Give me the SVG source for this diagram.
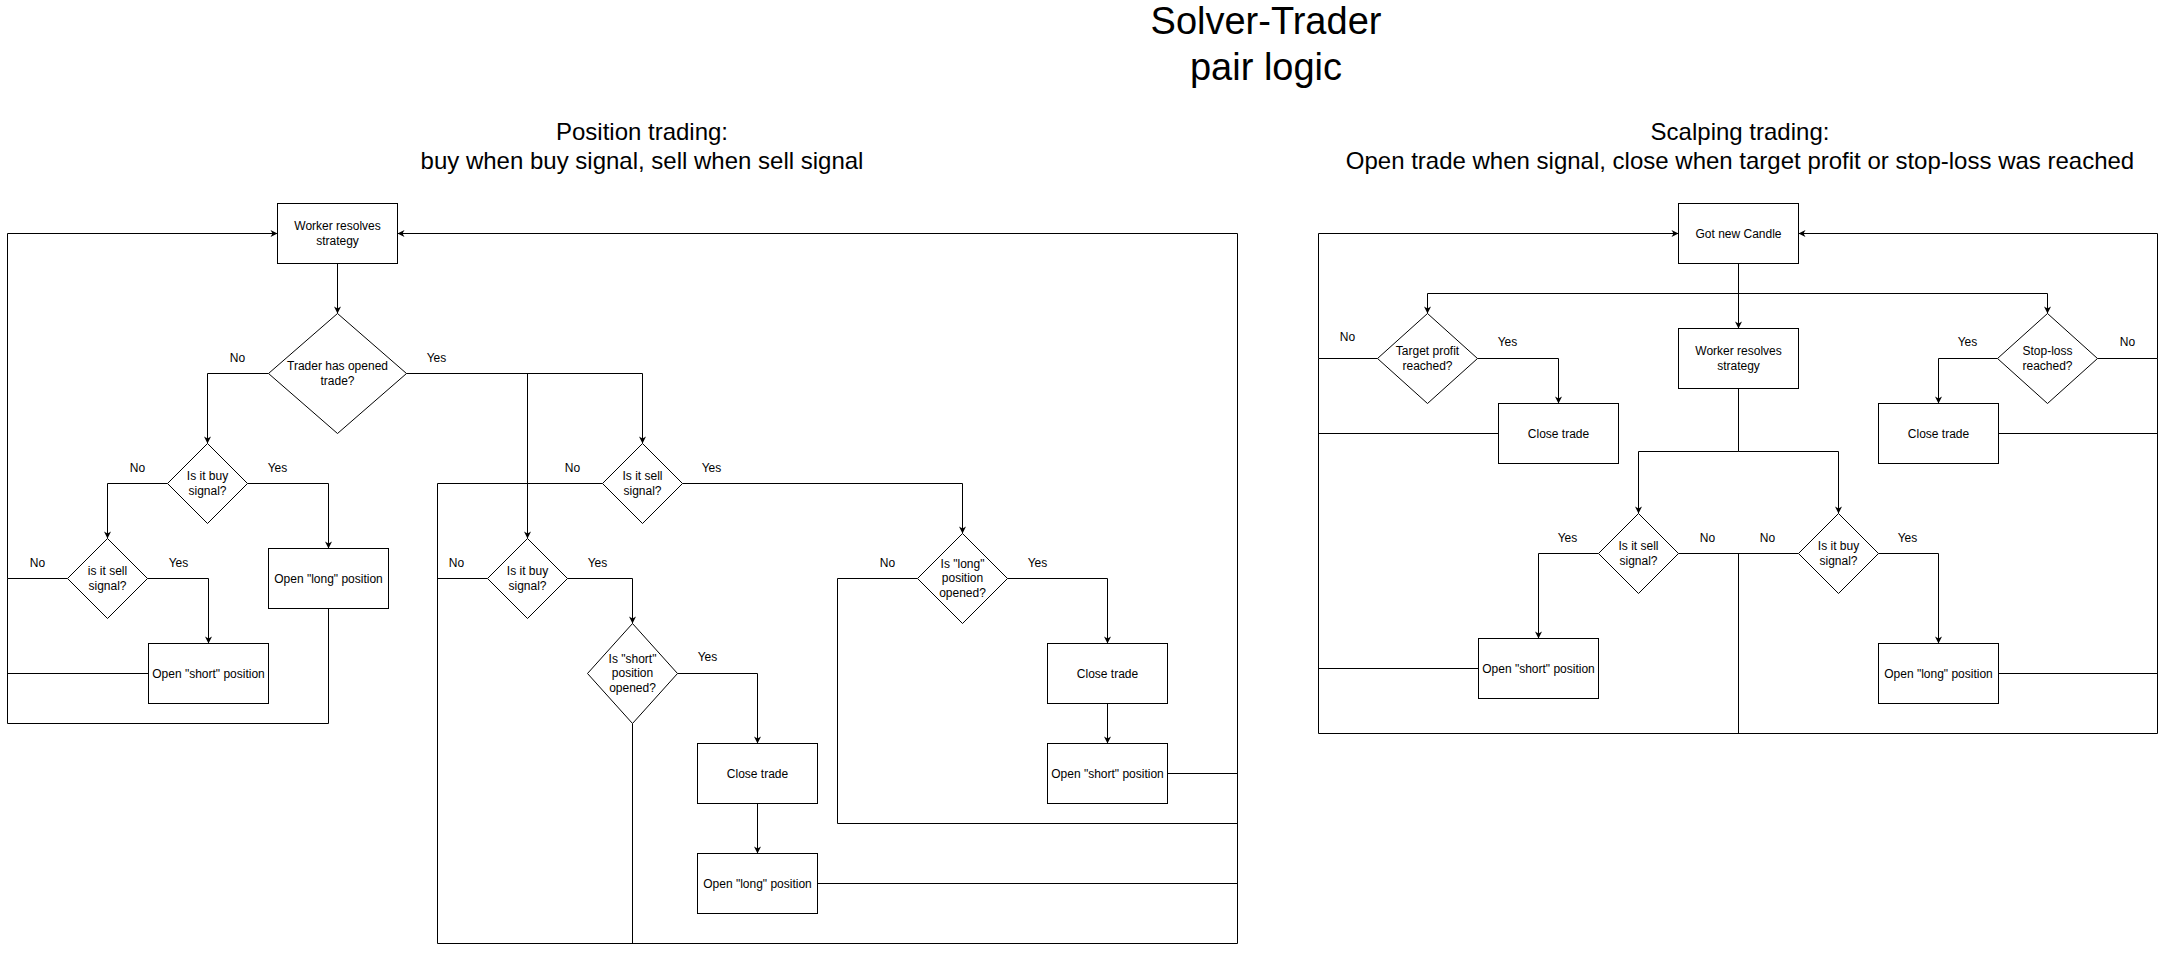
<svg xmlns="http://www.w3.org/2000/svg" width="2168" height="954" viewBox="0 0 2168 954">
<style>
  .bg { fill: #ffffff; }
  .box { fill: #ffffff; stroke: #000000; stroke-width: 1; }
  .dia { fill: #ffffff; stroke: #000000; stroke-width: 1; }
  .edge { fill: none; stroke: #000000; stroke-width: 1; }
  .arrow { fill: none; stroke: #000000; stroke-width: 1; marker-end: url(#arr); }
  .t { font-family: "Liberation Sans", Arial, Helvetica, sans-serif; font-size: 12px; fill: #000000; text-anchor: middle; }
  .title { font-family: "Liberation Sans", Arial, Helvetica, sans-serif; font-size: 38px; fill: #000000; text-anchor: middle; }
  .sub { font-family: "Liberation Sans", Arial, Helvetica, sans-serif; font-size: 24px; fill: #000000; text-anchor: middle; }
</style>
<defs>
  <marker id="arr" viewBox="-8 -5 9 10" refX="0" refY="0" markerWidth="9" markerHeight="10" markerUnits="userSpaceOnUse" orient="auto">
    <path d="M0,0 L-7,-3.5 L-5,0 L-7,3.5 Z" fill="#000000"/>
  </marker>
</defs>
<rect class="bg" x="0" y="0" width="2168" height="954"/>

<g id="titles">
  <text class="title" x="1266" y="34">Solver-Trader</text>
  <text class="title" x="1266" y="79.6">pair logic</text>
  <text class="sub" x="642" y="140">Position trading:</text>
  <text class="sub" x="642" y="168.8">buy when buy signal, sell when sell signal</text>
  <text class="sub" x="1740" y="140">Scalping trading:</text>
  <text class="sub" x="1740" y="168.8">Open trade when signal, close when target profit or stop-loss was reached</text>
</g>

<g transform="translate(0.5,0.5)">
<g id="connectors">
  <!-- LEFT: Position trading -->
  <path class="arrow" d="M337,263 L337,313"/>
  <path class="arrow" d="M268,373 L207,373 L207,443"/>
  <path class="arrow" d="M406,373 L642,373 L642,443"/>
  <path class="arrow" d="M406,373 L527,373 L527,538"/>
  <path class="arrow" d="M167,483 L107,483 L107,538"/>
  <path class="arrow" d="M247,483 L328,483 L328,548"/>
  <path class="arrow" d="M67,578 L7,578 L7,233 L277,233"/>
  <path class="arrow" d="M147,578 L208,578 L208,643"/>
  <path class="edge" d="M148,673 L7,673"/>
  <path class="edge" d="M328,608 L328,723 L7,723 L7,578"/>
  <path class="arrow" d="M602,483 L437,483 L437,943 L1237,943 L1237,233 L397,233"/>
  <path class="arrow" d="M682,483 L962,483 L962,533"/>
  <path class="edge" d="M487,578 L437,578"/>
  <path class="arrow" d="M567,578 L632,578 L632,623"/>
  <path class="edge" d="M632,723 L632,943"/>
  <path class="arrow" d="M677,673 L757,673 L757,743"/>
  <path class="arrow" d="M757,803 L757,853"/>
  <path class="edge" d="M817,883 L1237,883"/>
  <path class="edge" d="M917,578 L837,578 L837,823 L1237,823"/>
  <path class="arrow" d="M1007,578 L1107,578 L1107,643"/>
  <path class="arrow" d="M1107,703 L1107,743"/>
  <path class="edge" d="M1167,773 L1237,773"/>

  <!-- RIGHT: Scalping trading -->
  <path class="arrow" d="M1738,263 L1738,328"/>
  <path class="arrow" d="M1738,293 L1427,293 L1427,313"/>
  <path class="arrow" d="M1738,293 L2047,293 L2047,313"/>
  <path class="arrow" d="M1377,358 L1318,358 L1318,233 L1678,233"/>
  <path class="arrow" d="M1477,358 L1558,358 L1558,403"/>
  <path class="edge" d="M1498,433 L1318,433"/>
  <path class="arrow" d="M1997,358 L1938,358 L1938,403"/>
  <path class="arrow" d="M2097,358 L2157,358 L2157,233 L1798,233"/>
  <path class="edge" d="M1998,433 L2157,433"/>
  <path class="arrow" d="M1738,388 L1738,451 L1638,451 L1638,513"/>
  <path class="arrow" d="M1738,451 L1838,451 L1838,513"/>
  <path class="arrow" d="M1598,553 L1538,553 L1538,638"/>
  <path class="edge" d="M1678,553 L1798,553"/>
  <path class="edge" d="M1738,553 L1738,733"/>
  <path class="arrow" d="M1878,553 L1938,553 L1938,643"/>
  <path class="edge" d="M1478,668 L1318,668"/>
  <path class="edge" d="M1998,673 L2157,673"/>
  <path class="edge" d="M1318,358 L1318,733 L2157,733 L2157,358"/>

  <!-- edge labels -->
  <text class="t" x="237" y="361">No</text>
  <text class="t" x="436" y="361">Yes</text>
  <text class="t" x="137" y="471">No</text>
  <text class="t" x="277" y="471">Yes</text>
  <text class="t" x="572" y="471">No</text>
  <text class="t" x="711" y="471">Yes</text>
  <text class="t" x="37" y="566">No</text>
  <text class="t" x="178" y="566">Yes</text>
  <text class="t" x="456" y="566">No</text>
  <text class="t" x="597" y="566">Yes</text>
  <text class="t" x="887" y="566">No</text>
  <text class="t" x="1037" y="566">Yes</text>
  <text class="t" x="707" y="660">Yes</text>

  <text class="t" x="1347" y="340">No</text>
  <text class="t" x="1507" y="345">Yes</text>
  <text class="t" x="1967" y="345">Yes</text>
  <text class="t" x="2127" y="345">No</text>
  <text class="t" x="1567" y="541">Yes</text>
  <text class="t" x="1707" y="541">No</text>
  <text class="t" x="1767" y="541">No</text>
  <text class="t" x="1907" y="541">Yes</text>
</g>

<!-- LEFT nodes -->
<g id="pt-worker">
  <rect class="box" x="277" y="203" width="120" height="60"/>
  <text class="t" x="337" y="229.8">Worker resolves</text>
  <text class="t" x="337" y="244.2">strategy</text>
</g>
<g id="pt-trader-opened">
  <polygon class="dia" points="337,313 406,373 337,433 268,373"/>
  <text class="t" x="337" y="369.8">Trader has opened</text>
  <text class="t" x="337" y="384.2">trade?</text>
</g>
<g id="pt-buy-signal-1">
  <polygon class="dia" points="207,443 247,483 207,523 167,483"/>
  <text class="t" x="207" y="479.8">Is it buy</text>
  <text class="t" x="207" y="494.2">signal?</text>
</g>
<g id="pt-sell-signal-1">
  <polygon class="dia" points="107,538 147,578 107,618 67,578"/>
  <text class="t" x="107" y="574.8">is it sell</text>
  <text class="t" x="107" y="589.2">signal?</text>
</g>
<g id="pt-open-short-1">
  <rect class="box" x="148" y="643" width="120" height="60"/>
  <text class="t" x="208" y="677">Open "short" position</text>
</g>
<g id="pt-open-long-1">
  <rect class="box" x="268" y="548" width="120" height="60"/>
  <text class="t" x="328" y="582">Open "long" position</text>
</g>
<g id="pt-sell-signal-2">
  <polygon class="dia" points="642,443 682,483 642,523 602,483"/>
  <text class="t" x="642" y="479.8">Is it sell</text>
  <text class="t" x="642" y="494.2">signal?</text>
</g>
<g id="pt-buy-signal-2">
  <polygon class="dia" points="527,538 567,578 527,618 487,578"/>
  <text class="t" x="527" y="574.8">Is it buy</text>
  <text class="t" x="527" y="589.2">signal?</text>
</g>
<g id="pt-short-opened">
  <polygon class="dia" points="632,623 677,673 632,723 587,673"/>
  <text class="t" x="632" y="662.2">Is "short"</text>
  <text class="t" x="632" y="676.6">position</text>
  <text class="t" x="632" y="691">opened?</text>
</g>
<g id="pt-long-opened">
  <polygon class="dia" points="962,533 1007,578 962,623 917,578"/>
  <text class="t" x="962" y="567.2">Is "long"</text>
  <text class="t" x="962" y="581.6">position</text>
  <text class="t" x="962" y="596">opened?</text>
</g>
<g id="pt-close-trade-1">
  <rect class="box" x="697" y="743" width="120" height="60"/>
  <text class="t" x="757" y="777">Close trade</text>
</g>
<g id="pt-open-long-2">
  <rect class="box" x="697" y="853" width="120" height="60"/>
  <text class="t" x="757" y="887">Open "long" position</text>
</g>
<g id="pt-close-trade-2">
  <rect class="box" x="1047" y="643" width="120" height="60"/>
  <text class="t" x="1107" y="677">Close trade</text>
</g>
<g id="pt-open-short-2">
  <rect class="box" x="1047" y="743" width="120" height="60"/>
  <text class="t" x="1107" y="777">Open "short" position</text>
</g>

<!-- RIGHT nodes -->
<g id="st-new-candle">
  <rect class="box" x="1678" y="203" width="120" height="60"/>
  <text class="t" x="1738" y="237">Got new Candle</text>
</g>
<g id="st-worker">
  <rect class="box" x="1678" y="328" width="120" height="60"/>
  <text class="t" x="1738" y="354.8">Worker resolves</text>
  <text class="t" x="1738" y="369.2">strategy</text>
</g>
<g id="st-target-profit">
  <polygon class="dia" points="1427,313 1477,358 1427,403 1377,358"/>
  <text class="t" x="1427" y="354.8">Target profit</text>
  <text class="t" x="1427" y="369.2">reached?</text>
</g>
<g id="st-stop-loss">
  <polygon class="dia" points="2047,313 2097,358 2047,403 1997,358"/>
  <text class="t" x="2047" y="354.8">Stop-loss</text>
  <text class="t" x="2047" y="369.2">reached?</text>
</g>
<g id="st-close-trade-1">
  <rect class="box" x="1498" y="403" width="120" height="60"/>
  <text class="t" x="1558" y="437">Close trade</text>
</g>
<g id="st-close-trade-2">
  <rect class="box" x="1878" y="403" width="120" height="60"/>
  <text class="t" x="1938" y="437">Close trade</text>
</g>
<g id="st-sell-signal">
  <polygon class="dia" points="1638,513 1678,553 1638,593 1598,553"/>
  <text class="t" x="1638" y="549.8">Is it sell</text>
  <text class="t" x="1638" y="564.2">signal?</text>
</g>
<g id="st-buy-signal">
  <polygon class="dia" points="1838,513 1878,553 1838,593 1798,553"/>
  <text class="t" x="1838" y="549.8">Is it buy</text>
  <text class="t" x="1838" y="564.2">signal?</text>
</g>
<g id="st-open-short">
  <rect class="box" x="1478" y="638" width="120" height="60"/>
  <text class="t" x="1538" y="672">Open "short" position</text>
</g>
<g id="st-open-long">
  <rect class="box" x="1878" y="643" width="120" height="60"/>
  <text class="t" x="1938" y="677">Open "long" position</text>
</g>
</g>
</svg>
